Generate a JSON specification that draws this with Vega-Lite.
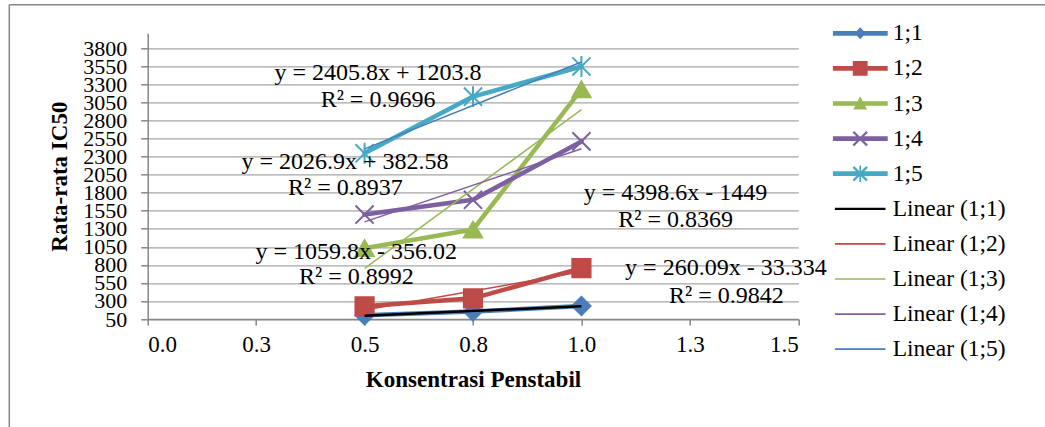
{
  "$schema": "https://vega.github.io/schema/vega-lite/v6.json",
  "width": 650.6,
  "height": 285.7,
  "autosize": {"type": "none"},
  "padding": {"left": 147.7, "top": 33.3, "right": 246.7, "bottom": 108},
  "background": "white",
  "config": {
    "view": {"stroke": null},
    "font": "Liberation Serif",
    "axis": {
      "labelFont": "Liberation Serif",
      "titleFont": "Liberation Serif",
      "labelColor": "#000000",
      "titleColor": "#000000",
      "domainColor": "#868686",
      "tickColor": "#868686",
      "gridColor": "#a6a6a6",
      "domainWidth": 1.5,
      "tickWidth": 1.5,
      "gridWidth": 1.3,
      "labelFontSize": 23,
      "titleFontSize": 23,
      "titleFontWeight": "bold",
      "labelOverlap": false
    },
    "legend": {"labelFont": "Liberation Serif"}
  },
  "datasets": {
    "ic50": [
      {"series": "1;1", "konsentrasi": 0.5, "IC50": 101.5},
      {"series": "1;1", "konsentrasi": 0.75, "IC50": 152.2},
      {"series": "1;1", "konsentrasi": 1.0, "IC50": 231.5},
      {"series": "1;2", "konsentrasi": 0.5, "IC50": 225.1},
      {"series": "1;2", "konsentrasi": 0.75, "IC50": 336.4},
      {"series": "1;2", "konsentrasi": 1.0, "IC50": 755.0},
      {"series": "1;3", "konsentrasi": 0.5, "IC50": 1030.6},
      {"series": "1;3", "konsentrasi": 0.75, "IC50": 1289.4},
      {"series": "1;3", "konsentrasi": 1.0, "IC50": 3229.9},
      {"series": "1;4", "konsentrasi": 0.5, "IC50": 1496.9},
      {"series": "1;4", "konsentrasi": 0.75, "IC50": 1701.0},
      {"series": "1;4", "konsentrasi": 1.0, "IC50": 2510.4},
      {"series": "1;5", "konsentrasi": 0.5, "IC50": 2345.3},
      {"series": "1;5", "konsentrasi": 0.75, "IC50": 3131.0},
      {"series": "1;5", "konsentrasi": 1.0, "IC50": 3548.2}
    ],
    "eq": [
      {"konsentrasi": 0.531, "IC50": 3453, "label": "y = 2405.8x + 1203.8"},
      {"konsentrasi": 0.531, "IC50": 3084, "label": "R² = 0.9696"},
      {"konsentrasi": 0.455, "IC50": 2229, "label": "y = 2026.9x + 382.58"},
      {"konsentrasi": 0.456, "IC50": 1860, "label": "R² = 0.8937"},
      {"konsentrasi": 0.481, "IC50": 982, "label": "y = 1059.8x - 356.02"},
      {"konsentrasi": 0.481, "IC50": 628, "label": "R² = 0.8992"},
      {"konsentrasi": 1.217, "IC50": 1800, "label": "y = 4398.6x - 1449"},
      {"konsentrasi": 1.217, "IC50": 1421, "label": "R² = 0.8369"},
      {"konsentrasi": 1.333, "IC50": 752, "label": "y = 260.09x - 33.334"},
      {"konsentrasi": 1.334, "IC50": 369, "label": "R² = 0.9842"}
    ]
  },
  "encoding": {
    "x": {
      "field": "konsentrasi",
      "type": "quantitative",
      "scale": {"domain": [0, 1.5], "nice": false, "zero": false},
      "axis": {
        "title": "Konsentrasi Penstabil",
        "values": [0, 0.25, 0.5, 0.75, 1, 1.25, 1.5],
        "format": ".1f",
        "grid": false,
        "tickSize": 6,
        "labelPadding": 8,
        "titlePadding": 12,
        "labelFont": "Liberation Serif",
        "titleFont": "Liberation Serif",
        "labelOverlap": false
      }
    },
    "y": {
      "field": "IC50",
      "type": "quantitative",
      "scale": {"domain": [50, 4008], "nice": false, "zero": false},
      "axis": {
        "title": "Rata-rata IC50",
        "values": [50, 300, 550, 800, 1050, 1300, 1550, 1800, 2050, 2300, 2550, 2800, 3050, 3300, 3550, 3800],
        "format": "d",
        "grid": true,
        "tickSize": 7,
        "labelPadding": 14,
        "labelFontSize": 22,
        "titlePadding": 11,
        "labelFont": "Liberation Serif",
        "titleFont": "Liberation Serif",
        "labelOverlap": false
      }
    }
  },
  "layer": [
    {
      "data": {"name": "ic50"},
      "transform": [{"filter": "datum.series === '1;1' && datum.konsentrasi === 0.5"}],
      "mark": {"type": "rule", "color": "#868686", "strokeWidth": 1.5, "clip": false},
      "encoding": {
        "x": {"datum": -0.3191, "type": "quantitative"},
        "x2": {"datum": 2.1},
        "y": {"datum": 4404, "type": "quantitative"}
      }
    },
    {
      "data": {"name": "ic50"},
      "transform": [{"filter": "datum.series === '1;1' && datum.konsentrasi === 0.5"}],
      "mark": {"type": "rule", "color": "#868686", "strokeWidth": 1.5, "clip": false},
      "encoding": {
        "x": {"datum": -0.3191, "type": "quantitative"},
        "y": {"datum": 4404, "type": "quantitative"},
        "y2": {"datum": -1500}
      }
    },
    {
      "data": {"name": "ic50"},
      "mark": {"type": "line", "strokeWidth": 4.5, "strokeCap": "round", "strokeJoin": "round"},
      "encoding": {
        "color": {
          "field": "series", "type": "nominal",
          "scale": {"domain": ["1;1", "1;2", "1;3", "1;4", "1;5"], "range": ["#4A7EBB", "#BE4B48", "#98B954", "#7D60A0", "#46AAC5"]},
          "legend": null
        }
      }
    },
    {
      "data": {"name": "ic50"},
      "mark": {"type": "point", "filled": true, "opacity": 1, "strokeWidth": 2, "size": 330},
      "encoding": {
        "color": {
          "field": "series", "type": "nominal",
          "scale": {"domain": ["1;1", "1;2", "1;3", "1;4", "1;5"], "range": ["#4A7EBB", "#BE4B48", "#98B954", "#7D60A0", "#46AAC5"]},
          "legend": null
        },
        "stroke": {
          "field": "series", "type": "nominal",
          "scale": {"domain": ["1;1", "1;2", "1;3", "1;4", "1;5"], "range": ["#4A7EBB", "#BE4B48", "#98B954", "#7D60A0", "#46AAC5"]},
          "legend": null
        },
        "shape": {
          "field": "series", "type": "nominal",
          "scale": {"domain": ["1;1", "1;2", "1;3", "1;4", "1;5"], "range": ["diamond", "square", "triangle-up", "M-1,-1L1,1M-1,1L1,-1", "M-1,-1L1,1M-1,1L1,-1M0,-1.15L0,1.15"]},
          "legend": null
        }
      }
    },
    {
      "data": {"name": "ic50"},
      "transform": [
        {"filter": "datum.series !== '1;1'"},
        {"regression": "IC50", "on": "konsentrasi", "groupby": ["series"]}
      ],
      "mark": {"type": "line", "strokeWidth": 1.5},
      "encoding": {
        "color": {
          "field": "series", "type": "nominal",
          "scale": {"domain": ["1;2", "1;3", "1;4", "1;5"], "range": ["#BE4B48", "#98B954", "#7D60A0", "#4A7EBB"]},
          "legend": null
        }
      }
    },
    {
      "data": {"name": "ic50"},
      "transform": [
        {"filter": "datum.series === '1;1'"},
        {"regression": "IC50", "on": "konsentrasi", "groupby": ["series"]}
      ],
      "mark": {"type": "line", "strokeWidth": 2.5, "color": "#000000"},
      "encoding": {}
    },
    {
      "data": {"name": "eq"},
      "mark": {"type": "text", "font": "Liberation Serif", "fontSize": 24, "color": "#000000", "align": "center", "baseline": "middle"},
      "encoding": {"text": {"field": "label"}}
    },
    {
      "data": {"name": "ic50"},
      "transform": [{"filter": "false"}],
      "mark": {"type": "point", "filled": true, "opacity": 1, "strokeWidth": 0},
      "encoding": {
        "x": null,
        "y": null,
        "color": {
          "field": "series", "type": "nominal",
          "scale": {
            "domain": ["1;1", "1;2", "1;3", "1;4", "1;5", "Linear (1;1)", "Linear (1;2)", "Linear (1;3)", "Linear (1;4)", "Linear (1;5)"],
            "range": ["#4A7EBB", "#BE4B48", "#98B954", "#7D60A0", "#46AAC5", "#000000", "#BE4B48", "#98B954", "#7D60A0", "#4A7EBB"]
          },
          "legend": {
            "orient": "none", "legendX": 685, "legendY": -15, "title": null,
            "symbolSize": 3025, "symbolStrokeWidth": 0, "clipHeight": 30, "rowPadding": 5.1,
            "labelOffset": 5, "labelFont": "Liberation Serif", "labelFontSize": 23.5, "labelColor": "#000000",
            "labelLimit": 0, "padding": 0, "symbolOpacity": 1
          }
        },
        "shape": {
          "field": "series", "type": "nominal",
          "scale": {
            "domain": ["1;1", "1;2", "1;3", "1;4", "1;5", "Linear (1;1)", "Linear (1;2)", "Linear (1;3)", "Linear (1;4)", "Linear (1;5)"],
            "range": [
              "M-1,-0.085H1V0.085H-1Z M0,-0.22L0.2,0L0,0.22L-0.2,0Z",
              "M-1,-0.085H1V0.085H-1Z M-0.27,-0.27H0.27V0.27H-0.27Z",
              "M-1,-0.085H1V0.085H-1Z M0,-0.26L0.25,0.22L-0.25,0.22Z",
              "M-1,-0.085H1V0.085H-1Z M-0.22,-0.28L0.28,0.22L0.22,0.28L-0.28,-0.22Z M-0.28,0.22L0.22,-0.28L0.28,-0.22L-0.22,0.28Z",
              "M-1,-0.085H1V0.085H-1Z M-0.22,-0.28L0.28,0.22L0.22,0.28L-0.28,-0.22Z M-0.28,0.22L0.22,-0.28L0.28,-0.22L-0.22,0.28Z M-0.03,-0.3H0.03V0.3H-0.03Z",
              "M-0.92,-0.04H0.92V0.04H-0.92Z",
              "M-0.92,-0.03H0.92V0.03H-0.92Z",
              "M-0.92,-0.03H0.92V0.03H-0.92Z",
              "M-0.92,-0.03H0.92V0.03H-0.92Z",
              "M-0.92,-0.03H0.92V0.03H-0.92Z"
            ]
          },
          "legend": {
            "orient": "none", "legendX": 685, "legendY": -15, "title": null,
            "symbolSize": 3025, "symbolStrokeWidth": 0, "clipHeight": 30, "rowPadding": 5.1,
            "labelOffset": 5, "labelFont": "Liberation Serif", "labelFontSize": 23.5, "labelColor": "#000000",
            "labelLimit": 0, "padding": 0, "symbolOpacity": 1
          }
        }
      }
    }
  ],
  "resolve": {"scale": {"color": "independent", "shape": "independent", "stroke": "independent"}}
}
